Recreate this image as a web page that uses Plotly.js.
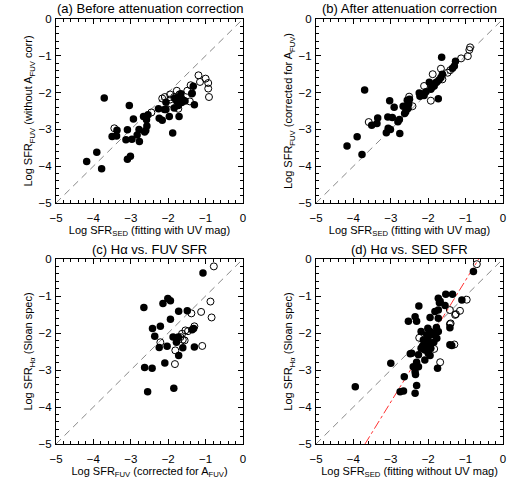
<!DOCTYPE html>
<html>
<head>
<meta charset="utf-8">
<script src="https://cdn.plot.ly/plotly-3.0.1.min.js"></script>
<style>html,body{margin:0;padding:0;background:#fff;}#chart{width:520px;height:480px;}</style>
</head>
<body>
<div id="chart"></div>
<script>
// ---------- data ----------
const panelTitles = ["(a) Before attenuation correction", "(b) After attenuation correction", "(c) H\u03b1 vs. FUV SFR", "(d) H\u03b1 vs. SED SFR"];
const xTitles = ["Log SFR<sub>SED</sub> (fitting with UV mag)", "Log SFR<sub>SED</sub> (fitting with UV mag)", "Log SFR<sub>FUV</sub> (corrected for A<sub>FUV</sub>)", "Log SFR<sub>SED</sub> (fitting without UV mag)"];
const yTitles = ["Log SFR<sub>FUV</sub> (without A<sub>FUV</sub> corr)", "Log SFR<sub>FUV</sub> (corrected for A<sub>FUV</sub>)", "Log SFR<sub>H\u03b1</sub> (Sloan spec)", "Log SFR<sub>H\u03b1</sub> (Sloan spec)"];
const majorStep = 1;
const minorStep = 0.2;
const axisRange = [-5, 0];

// 1:1 reference line
const diagX = [-5, 0];
const diagY = [-5, 0];
// fit line in panel (d)
const fitX = [-3.69, -0.65];
const fitY = [-5, 0];

// Panel (a)
const aFilledX = [-3.71,-3.04,-4.18,-3.91,-3.78,-3.50,-3.38,-3.37,-3.13,-3.09,-3.09,-3.01,-2.97,-2.93,-2.83,-2.78,-2.77,-2.66,-2.63,-2.60,-2.57,-2.58,-2.54,-2.26,-2.24,-2.16,-2.10,-2.06,-2.06,-1.97,-1.88,-1.84,-1.82,-1.77,-1.73,-1.69,-1.71,-1.66,-1.64,-1.60,-1.55,-1.37,-1.33,-1.30,-1.36];
const aFilledY = [-2.15,-2.35,-3.87,-3.62,-4.07,-3.19,-3.18,-3.02,-3.28,-3.01,-3.81,-3.73,-3.27,-2.72,-3.15,-3.00,-3.33,-2.65,-3.07,-3.03,-2.91,-2.74,-2.60,-2.44,-2.70,-2.75,-2.46,-2.46,-2.26,-2.65,-3.10,-2.42,-2.15,-2.23,-2.35,-2.12,-2.65,-2.03,-2.27,-2.21,-2.23,-2.03,-1.83,-2.33,-2.02];
const aOpenX = [-3.44,-2.45,-2.16,-2.09,-1.95,-1.95,-1.93,-1.84,-1.77,-1.73,-1.70,-1.64,-1.60,-1.49,-1.42,-1.40,-1.19,-1.15,-1.00,-0.93,-0.93,-0.91];
const aOpenY = [-2.97,-2.54,-2.16,-2.12,-2.05,-2.19,-2.30,-2.12,-1.95,-2.44,-2.05,-2.17,-2.21,-1.95,-2.24,-1.80,-1.53,-1.71,-1.62,-1.74,-1.89,-2.12];

// Panel (b)
const bFilledX = [-4.17,-3.90,-3.77,-3.70,-3.51,-3.37,-3.35,-3.12,-3.08,-3.07,-3.01,-3.03,-2.96,-2.91,-2.81,-2.77,-2.76,-2.67,-2.63,-2.60,-2.56,-2.54,-2.52,-2.50,-2.24,-2.22,-2.15,-2.11,-2.06,-1.97,-1.93,-1.90,-1.89,-1.84,-1.80,-1.77,-1.73,-1.71,-1.66,-1.64,-1.62,-1.35,-1.30,-1.27];
const bFilledY = [-3.45,-3.20,-3.68,-1.93,-2.89,-2.84,-2.69,-3.09,-2.66,-2.97,-3.00,-2.22,-2.68,-2.40,-2.79,-2.73,-3.11,-2.37,-2.57,-2.52,-2.21,-2.43,-2.31,-2.18,-2.01,-2.10,-2.04,-2.08,-1.98,-1.72,-1.91,-1.86,-1.82,-1.82,-1.73,-1.71,-2.17,-1.66,-1.59,-1.04,-1.50,-1.34,-1.28,-1.15];
const bOpenX = [-3.59,-2.51,-2.42,-2.11,-1.93,-1.88,-1.66,-1.62,-1.48,-1.41,-1.12,-0.94,-0.90,-0.88];
const bOpenY = [-2.80,-2.11,-2.37,-1.82,-2.22,-1.50,-1.35,-1.64,-1.46,-1.39,-1.07,-1.01,-0.84,-0.77];

// Panel (c)
const cFilledX = [-2.63,-2.43,-2.55,-2.65,-2.42,-2.36,-2.21,-2.24,-2.14,-2.09,-2.03,-2.01,-1.94,-1.94,-1.87,-1.85,-1.78,-1.73,-1.72,-1.72,-1.61,-1.49,-1.36,-1.32,-1.30,-1.07];
const cFilledY = [-2.93,-2.95,-3.59,-1.31,-1.88,-2.09,-1.82,-2.39,-1.20,-2.81,-2.36,-1.07,-1.13,-1.63,-2.11,-3.49,-2.25,-2.11,-1.41,-2.61,-2.40,-1.40,-1.91,-1.88,-2.38,-0.38];
const cOpenX = [-2.21,-1.82,-1.81,-1.67,-1.63,-1.61,-1.56,-1.54,-1.47,-1.38,-1.30,-1.12,-1.09,-0.87,-0.84,-0.78];
const cOpenY = [-2.25,-2.84,-2.47,-2.11,-2.02,-2.18,-2.20,-1.93,-1.95,-1.47,-1.82,-1.43,-2.35,-1.15,-1.58,-0.20];

// Panel (d)
const dFilledX = [-1.53,-1.35,-1.73,-1.68,-1.70,-1.10,-2.25,-1.55,-1.73,-1.82,-2.35,-2.31,-2.53,-1.95,-1.73,-1.42,-2.01,-1.95,-2.19,-2.04,-1.91,-1.82,-1.73,-1.77,-2.13,-2.04,-2.09,-2.19,-1.93,-1.42,-1.37,-2.44,-2.48,-2.26,-2.00,-1.95,-2.09,-2.31,-2.26,-2.40,-2.35,-2.34,-3.00,-2.64,-1.75,-2.31,-2.66,-2.75,-2.35,-3.95,-0.79,-2.00,-1.85,-2.15,-1.98,-1.78];
const dFilledY = [-0.95,-0.95,-1.06,-1.14,-1.18,-1.11,-1.27,-1.26,-1.38,-1.42,-1.56,-1.68,-1.68,-1.58,-1.60,-1.86,-1.87,-1.96,-1.96,-2.05,-2.05,-2.01,-1.96,-2.14,-2.19,-2.32,-2.46,-2.41,-2.41,-2.32,-2.34,-2.55,-2.56,-2.59,-2.55,-2.61,-2.73,-2.79,-2.91,-2.91,-3.05,-3.12,-2.82,-3.18,-2.95,-3.42,-3.57,-3.59,-3.63,-3.45,-0.34,-2.20,-2.25,-2.35,-2.32,-1.85];
const dOpenX = [-1.42,-1.28,-1.40,-2.24,-1.84,-1.30,-1.68,-0.70,-0.97,-1.15,-1.26,-1.42];
const dOpenY = [-1.38,-1.51,-1.74,-2.13,-2.43,-2.31,-2.79,-0.14,-1.10,-1.40,-1.49,-1.76];

// ---------- build ----------
const FONT = "Liberation Sans, Arial, sans-serif";
const filledSets = [[aFilledX,aFilledY],[bFilledX,bFilledY],[cFilledX,cFilledY],[dFilledX,dFilledY]];
const openSets = [[aOpenX,aOpenY],[bOpenX,bOpenY],[cOpenX,cOpenY],[dOpenX,dOpenY]];
const axSuffix = ["", "2", "3", "4"];

const traces = [];
for (let i = 0; i < 4; i++) {
  const xa = "x" + axSuffix[i], ya = "y" + axSuffix[i];
  traces.push({x: diagX, y: diagY, xaxis: xa, yaxis: ya, mode: "lines", type: "scatter",
    line: {color: "#888", width: 1, dash: "7px,5px"}, hoverinfo: "skip"});
  if (i === 3) {
    traces.push({x: fitX, y: fitY, xaxis: xa, yaxis: ya, mode: "lines", type: "scatter",
      line: {color: "#ff3030", width: 1, dash: "dashdot"}, hoverinfo: "skip"});
  }
  traces.push({x: openSets[i][0], y: openSets[i][1], xaxis: xa, yaxis: ya, mode: "markers", type: "scatter",
    marker: {symbol: "circle-open", size: 7, color: "#000", line: {width: 1, color: "#000"}}});
  traces.push({x: filledSets[i][0], y: filledSets[i][1], xaxis: xa, yaxis: ya, mode: "markers", type: "scatter",
    marker: {symbol: "circle", size: 7.5, color: "#000"}});
}

const W = 520, H = 480;
const xDomains = [[56/W, 243/W], [316/W, 503/W]];
const yDomains = [[1 - 203/H, 1 - 19/H], [1 - 444/H, 1 - 259/H]];

function axisBase() {
  return {
    range: axisRange, dtick: majorStep,
    ticks: "inside", ticklen: 5, tickwidth: 1, tickcolor: "#000",
    showline: true, linecolor: "#000", linewidth: 1, mirror: "allticks",
    showgrid: false, zeroline: false,
    minor: {dtick: minorStep, ticks: "inside", ticklen: 3, tickwidth: 1, tickcolor: "#000"},
    tickfont: {family: FONT, size: 11.5, color: "#000"}
  };
}

const layout = {
  width: W, height: H, margin: {l: 0, r: 0, t: 0, b: 0},
  paper_bgcolor: "#fff", plot_bgcolor: "#fff", showlegend: false,
  font: {family: FONT, size: 11, color: "#000"},
  annotations: []
};

for (let i = 0; i < 4; i++) {
  const col = i % 2, row = Math.floor(i / 2);
  const xa = Object.assign(axisBase(), {
    domain: xDomains[col], anchor: "y" + axSuffix[i], ticklabelstandoff: 4,
    title: {text: xTitles[i], font: {family: FONT, size: 11, color: "#000"}, standoff: 1}
  });
  const ya = Object.assign(axisBase(), {
    domain: yDomains[row], anchor: "x" + axSuffix[i], ticklabelstandoff: 1,
    title: {text: yTitles[i], font: {family: FONT, size: 11, color: "#000"}, standoff: 3}
  });
  layout["xaxis" + axSuffix[i]] = xa;
  layout["yaxis" + axSuffix[i]] = ya;
  layout.annotations.push({
    text: panelTitles[i], showarrow: false, xref: "paper", yref: "paper",
    x: (xDomains[col][0] + xDomains[col][1]) / 2, y: yDomains[row][1] + 10/H,
    xanchor: "center", yanchor: "middle",
    font: {family: FONT, size: 13, color: "#000"}
  });
}

Plotly.newPlot("chart", traces, layout, {staticPlot: true, displayModeBar: false});
</script>
</body>
</html>
